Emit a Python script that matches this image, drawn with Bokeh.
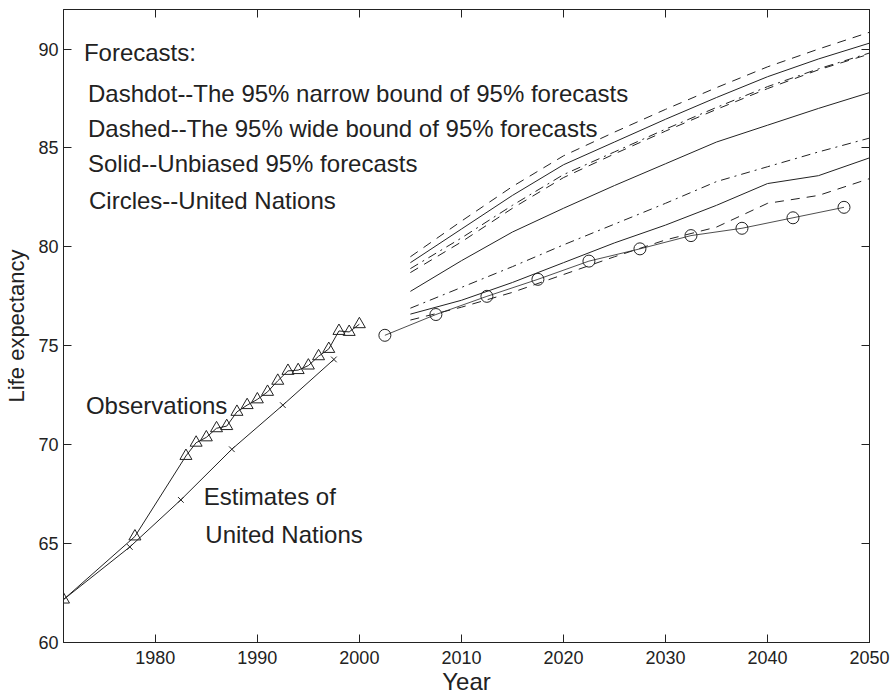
from bokeh.plotting import figure
from bokeh.models import Range1d, LinearAxis, Label, FixedTicker
from bokeh.embed import file_html
from bokeh.resources import INLINE

# ---------------- data ----------------
obs_years = [1971, 1978, 1983, 1984, 1985, 1986, 1987, 1988, 1989, 1990,
             1991, 1992, 1993, 1994, 1995, 1996, 1997, 1998, 1999, 2000]
obs_le = [62.17, 65.36, 69.43, 70.10, 70.37, 70.83, 70.94, 71.66, 72.00, 72.29,
          72.67, 73.23, 73.73, 73.77, 74.00, 74.47, 74.84, 75.75, 75.70, 76.09]

un_est_years = [1977.5, 1982.5, 1987.5, 1992.5, 1997.5]
un_est_le = [64.83, 67.21, 69.77, 72.00, 74.31]

un_fc_years = [2002.5, 2007.5, 2012.5, 2017.5, 2022.5, 2027.5, 2032.5, 2037.5, 2042.5, 2047.5]
un_fc_le = [75.53, 76.58, 77.50, 78.36, 79.28, 79.90, 80.57, 80.94, 81.47, 82.00]

fc_years = [2005, 2010, 2015, 2020, 2025, 2030, 2035, 2040, 2045, 2050]
# upper group
upper_wide_hi = [79.50, 81.30, 83.05, 84.60, 85.80, 86.95, 88.05, 89.10, 90.00, 90.85]
upper_solid = [79.20, 80.90, 82.60, 84.15, 85.30, 86.45, 87.55, 88.60, 89.50, 90.30]
upper_narrow = [78.90, 80.45, 82.10, 83.65, 84.80, 85.95, 87.05, 88.10, 89.00, 89.80]
upper_wide_lo = [78.70, 80.25, 81.95, 83.50, 84.70, 85.85, 86.95, 88.00, 88.95, 89.75]
# middle
middle_solid = [77.75, 79.30, 80.75, 81.95, 83.10, 84.20, 85.30, 86.15, 87.00, 87.80]
# lower group
lower_narrow = [76.90, 77.95, 79.00, 80.10, 81.15, 82.20, 83.30, 84.05, 84.80, 85.50]
lower_solid = [76.60, 77.30, 78.20, 79.20, 80.20, 81.10, 82.10, 83.20, 83.60, 84.50]
lower_wide = [76.30, 76.95, 77.70, 78.60, 79.50, 80.35, 81.00, 82.20, 82.60, 83.45]

x_ticks = [1980, 1990, 2000, 2010, 2020, 2030, 2040, 2050]
y_ticks = [60, 65, 70, 75, 80, 85, 90]

notes = ["Forecasts:",
         "Dashdot--The 95% narrow bound of 95% forecasts",
         "Dashed--The 95% wide bound of 95% forecasts",
         "Solid--Unbiased 95% forecasts",
         "Circles--United Nations",
         "Observations",
         "Estimates of",
         "United Nations"]
note_x = [1973.0, 1973.4, 1973.4, 1973.4, 1973.5, 1973.2, 1984.75, 1984.9]
note_y = [89.85, 87.74, 85.97, 84.20, 82.34, 72.0, 67.36, 65.45]

# ---------------- figure ----------------
FONT = "Liberation Sans"
INK = "#222222"

p = figure(width=892, height=697, x_range=Range1d(1971, 2050), y_range=Range1d(60, 92),
           output_backend="svg", toolbar_location=None,
           min_border_left=63, min_border_right=23, min_border_top=9, min_border_bottom=54)
p.background_fill_color = "white"
p.border_fill_color = "white"
p.outline_line_color = INK
p.outline_line_width = 1
p.xgrid.visible = False
p.ygrid.visible = False

for ax, ticks in ((p.xaxis[0], x_ticks), (p.yaxis[0], y_ticks)):
    ax.ticker = FixedTicker(ticks=ticks)
    ax.major_tick_in = 8
    ax.major_tick_out = 0
    ax.minor_tick_line_color = None
    ax.axis_line_color = INK
    ax.major_tick_line_color = INK
    ax.major_label_text_font = FONT
    ax.major_label_text_font_size = "18px"
    ax.major_label_text_color = INK
    ax.axis_label_text_font = FONT
    ax.axis_label_text_font_style = "normal"
    ax.axis_label_text_color = INK

p.xaxis.axis_label = "Year"
p.yaxis.axis_label = "Life expectancy"
p.xaxis.axis_label_text_font_size = "24px"
p.yaxis.axis_label_text_font_size = "22px"
p.xaxis.major_label_standoff = 8
p.xaxis.axis_label_standoff = 1
p.yaxis.major_label_standoff = 5
p.yaxis.axis_label_standoff = 6

for loc, ticks in (("above", x_ticks), ("right", y_ticks)):
    ax = LinearAxis(ticker=FixedTicker(ticks=ticks), major_tick_in=8, major_tick_out=0,
                    minor_tick_line_color=None, major_label_text_font_size="1px",
                    major_label_text_color=None, major_label_standoff=0,
                    axis_line_color=INK, major_tick_line_color=INK)
    p.add_layout(ax, loc)

LW = 1.0
# observations
p.line(obs_years, obs_le, line_color=INK, line_width=LW)
p.scatter(obs_years, obs_le, marker="triangle", size=12, fill_color=None,
          line_color=INK, line_width=LW)
# UN estimates (line starts at first observation)
p.line([obs_years[0]] + un_est_years, [obs_le[0]] + un_est_le, line_color=INK, line_width=LW)
p.scatter(un_est_years, un_est_le, marker="x", size=8, line_color=INK, line_width=LW)
# UN forecasts
p.line(un_fc_years, un_fc_le, line_color=INK, line_width=0.8)
p.scatter(un_fc_years, un_fc_le, marker="circle", size=12, fill_color=None,
          line_color=INK, line_width=LW)

DASH = "9 7"
DASHDOT = "9 5 2 5"
for ys, dash in ((upper_wide_hi, DASH), (upper_solid, "solid"), (upper_narrow, DASHDOT),
                 (upper_wide_lo, DASH), (middle_solid, "solid"),
                 (lower_narrow, DASHDOT), (lower_solid, "solid"), (lower_wide, DASH)):
    p.line(fc_years, ys, line_color=INK, line_width=LW, line_dash=dash)

for t, x, y in zip(notes, note_x, note_y):
    p.add_layout(Label(x=x, y=y, text=t, text_font=FONT, text_font_size="24px",
                       text_color=INK, text_baseline="middle", text_align="left"))

open("out.html", "w").write(file_html(p, INLINE))
